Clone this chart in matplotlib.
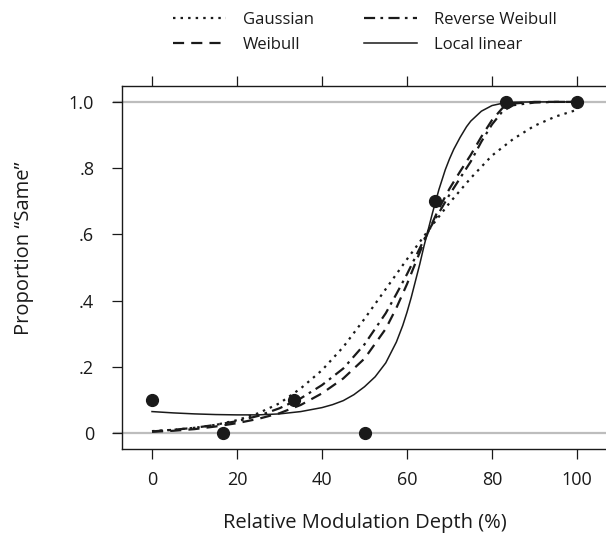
import matplotlib
matplotlib.use("Agg")
import matplotlib.pyplot as plt

plt.rcParams['font.family'] = ['Open Sans', 'DejaVu Sans']

# Observed data
obs_x = [0, 16.7, 33.3, 50, 66.7, 83.3, 100]
obs_y = [0.10, 0.0, 0.10, 0.0, 0.70, 1.0, 1.0]

# Fitted curves
gauss_x = [0, 5, 10, 15, 20, 25, 30, 35, 40, 45, 50, 55, 60, 65, 70, 75, 80, 85, 90, 95, 100]
gauss_y = [0.006, 0.010, 0.016, 0.025, 0.039, 0.060, 0.090, 0.135, 0.190, 0.260, 0.345, 0.435,
           0.525, 0.612, 0.695, 0.770, 0.838, 0.888, 0.928, 0.956, 0.976]

weib_x = [0, 5, 10, 15, 20, 25, 30, 35, 40, 45, 50, 55, 57.5, 60, 62.5, 65, 67.5, 70, 72.5,
          75, 77.5, 80, 82.5, 85, 90, 95, 100]
weib_y = [0.004, 0.007, 0.012, 0.020, 0.030, 0.043, 0.060, 0.085, 0.120, 0.165, 0.225, 0.315,
          0.378, 0.450, 0.530, 0.608, 0.678, 0.738, 0.790, 0.840, 0.895, 0.945, 0.982, 0.995,
          1.0, 1.0, 1.0]

rweib_x = [0, 5, 10, 15, 20, 25, 30, 35, 40, 45, 50, 55, 57.5, 60, 62.5, 65, 67.5, 70, 72.5,
           75, 77.5, 80, 82.5, 85, 90, 95, 100]
rweib_y = [0.005, 0.010, 0.016, 0.025, 0.036, 0.052, 0.075, 0.105, 0.145, 0.195, 0.268, 0.362,
           0.420, 0.480, 0.545, 0.610, 0.665, 0.720, 0.770, 0.820, 0.880, 0.932, 0.972, 0.990,
           0.998, 1.0, 1.0]

loclin_x = [0, 5, 10, 15, 20, 25, 30, 35, 40, 42.5, 45, 47.5, 50, 52.5, 55, 57.5, 59, 60, 61,
            62, 63, 64, 65, 66, 67.5, 69, 70, 71, 72.5, 74, 75, 77.5, 80, 82.5, 85, 90, 95, 100]
loclin_y = [0.065, 0.061, 0.058, 0.056, 0.055, 0.055, 0.058, 0.065, 0.077, 0.086, 0.098, 0.116,
            0.140, 0.170, 0.212, 0.275, 0.325, 0.365, 0.410, 0.460, 0.510, 0.565, 0.615, 0.665,
            0.735, 0.795, 0.828, 0.857, 0.893, 0.925, 0.942, 0.972, 0.989, 0.996, 0.999,
            1.0, 1.0, 1.0]

x_ticks = [0, 20, 40, 60, 80, 100]
y_ticks = [0, 0.2, 0.4, 0.6, 0.8, 1.0]
y_tick_labels = ["0", ".2", ".4", ".6", ".8", "1.0"]

W, H = 606, 545
fig = plt.figure(figsize=(W / 100, H / 100), dpi=100)
ax = fig.add_axes([122 / W, 1 - 449 / H, 1 - 122 / W, (449 - 86) / H])

ink = '#1a1a1a'
gray = '#bdbdbd'

# gray reference lines at 0 and 1 (extend across the tick area)
for yv in (0.0, 1.0):
    ax.plot([-0.019, 1.0], [yv, yv], color=gray, lw=1.6, zorder=1,
            transform=ax.get_yaxis_transform(), clip_on=False, solid_capstyle='butt')

l_g, = ax.plot(gauss_x, gauss_y, color=ink, lw=1.6, ls=(0, (1.1, 2.3)), zorder=3,
               label='Gaussian')
l_w, = ax.plot(weib_x, weib_y, color=ink, lw=1.6, ls=(0, (5.0, 3.2)), zorder=3,
               label='Weibull')
l_r, = ax.plot(rweib_x, rweib_y, color=ink, lw=1.6, ls=(0, (5.0, 2.4, 1.2, 2.4)), zorder=3,
               label='Reverse Weibull')
l_l, = ax.plot(loclin_x, loclin_y, color=ink, lw=1.1, ls='-', zorder=3,
               label='Local linear')

ax.plot(obs_x, obs_y, 'o', color=ink, ms=8.5, zorder=4, clip_on=False)

ax.set_xlim(-7.06, 106.82)
ax.set_ylim(-0.048, 1.048)

ax.set_xticks(x_ticks)
ax.set_xticklabels([str(v) for v in x_ticks])
ax.set_yticks(y_ticks)
ax.set_yticklabels(y_tick_labels)

ax.tick_params(axis='x', which='both', direction='out', length=7, width=0.9, color=ink,
               top=True, labeltop=False, bottom=True, labelsize=13, pad=9, labelcolor=ink)
ax.tick_params(axis='y', which='both', direction='out', length=7, width=0.9, color=ink,
               left=True, labelsize=13, pad=13, labelcolor=ink)

for s in ('left', 'top', 'bottom'):
    ax.spines[s].set_color(ink)
    ax.spines[s].set_linewidth(1.0)
ax.spines['right'].set_visible(False)

fig.text(24 / W, 1 - 248 / H, 'Proportion \u201cSame\u201d', rotation=90, ha='center',
         va='center', fontsize=14.5, color=ink)
fig.text(0.5 * (152 + 577) / W, 1 - 523 / H, 'Relative Modulation Depth (%)', ha='center',
         va='center', fontsize=14.5, color=ink)

leg = fig.legend(handles=[l_g, l_w, l_r, l_l], ncol=2, frameon=False, fontsize=12,
                 loc='center', bbox_to_anchor=((172 + 557) / 2 / W, 1 - 32.5 / H),
                 handlelength=3.2, handletextpad=1.0, columnspacing=3.0,
                 labelspacing=0.55, borderpad=0.0, labelcolor=ink)

fig.savefig('out.png', dpi=100)
